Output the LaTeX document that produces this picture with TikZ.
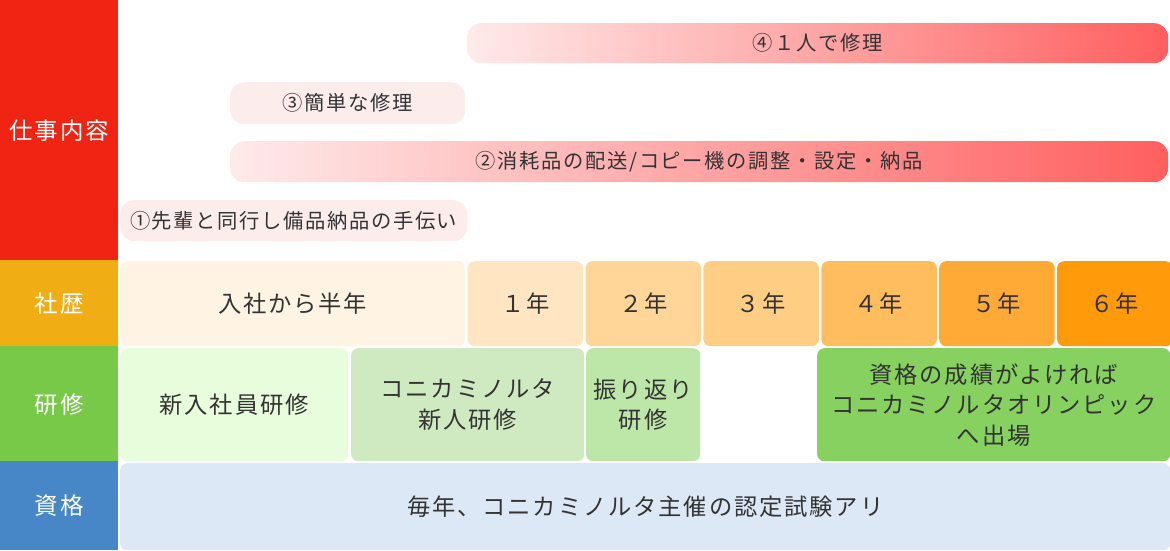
\documentclass[tikz,border=0pt]{standalone}
\usepackage{fontspec}
\setmainfont{Noto Sans CJK JP}
\newfontfamily\kmrowfont[LetterSpace=8]{Noto Sans CJK JP}
\usetikzlibrary{positioning}
\definecolor{kmInk}{HTML}{333333}
\definecolor{kmRed}{HTML}{EF2412}
\definecolor{kmOrange}{HTML}{F0AD14}
\definecolor{kmGreen}{HTML}{77C947}
\definecolor{kmBlue}{HTML}{4787C7}
\definecolor{kmPinkLt}{HTML}{FDECEC}
\definecolor{kmPinkGr}{HTML}{FFEAEA}
\definecolor{kmPinkDk}{HTML}{FF5F5F}
\definecolor{kmHalf}{HTML}{FFF4E4}
\definecolor{kmYrA}{HTML}{FFE5C2}
\definecolor{kmYrB}{HTML}{FFD598}
\definecolor{kmYrC}{HTML}{FFCD84}
\definecolor{kmYrD}{HTML}{FFBD5E}
\definecolor{kmYrE}{HTML}{FFAA36}
\definecolor{kmYrF}{HTML}{FF9A0B}
\definecolor{kmTrA}{HTML}{E7FDDC}
\definecolor{kmTrB}{HTML}{CFEAC1}
\definecolor{kmTrC}{HTML}{BDE7A8}
\definecolor{kmTrD}{HTML}{86D160}
\definecolor{kmQual}{HTML}{DCE8F5}
\tikzset{
  side label/.style={fill=#1,anchor=north west,inner sep=0pt,minimum width=118pt,
    text=white,font={\kmrowfont\fontsize{23.5}{28}\selectfont}},
  row cell/.style={rounded corners=7pt,anchor=north west,inner sep=0pt,align=center,
    text=kmInk,font={\kmrowfont\fontsize{23.3}{30.5}\selectfont}},
  year cell/.style={row cell,minimum width=115.5pt,minimum height=85pt},
  task bar/.style={rounded corners=14pt,anchor=north west,inner sep=0pt,
    text=kmInk,font={\kmrowfont\fontsize{20.3}{24}\selectfont}},
  task fade/.style={task bar,left color=kmPinkGr,right color=kmPinkDk}
}
\begin{document}
\begin{tikzpicture}[x=1pt,y=-1pt,node distance=2pt]
\useasboundingbox (0,0) rectangle (1170,550);
% category column
\node[side label=kmRed,minimum height=261pt] (work) at (0,0) {仕事内容};
\node[side label=kmOrange,minimum height=87pt] (career) at (0,260) {社歴};
\node[side label=kmGreen,minimum height=116pt] (training) at (0,346) {研修};
\node[side label=kmBlue,minimum height=89pt] (license) at (0,461) {資格};
% tasks
\node[task fade,minimum width=701pt,minimum height=40pt] (task4) at (467,23) {④１人で修理};
\node[task bar,fill=kmPinkLt,minimum width=235pt,minimum height=42pt] (task3) at (230,82) {③簡単な修理};
\node[task fade,minimum width=938pt,minimum height=41pt] (task2) at (230,141) {②消耗品の配送/コピー機の調整・設定・納品};
\node[task bar,fill=kmPinkLt,minimum width=347pt,minimum height=41pt] (task1) at (120,200) {①先輩と同行し備品納品の手伝い};
% career
\node[row cell,fill=kmHalf,minimum width=345pt,minimum height=85pt] (half) at (120,261) {入社から半年};
\node[year cell,fill=kmYrA,right=of half] (yr1) {１年};
\node[year cell,fill=kmYrB,right=of yr1] (yr2) {２年};
\node[year cell,fill=kmYrC,right=of yr2] (yr3) {３年};
\node[year cell,fill=kmYrD,right=of yr3] (yr4) {４年};
\node[year cell,fill=kmYrE,right=of yr4] (yr5) {５年};
\node[year cell,fill=kmYrF,right=of yr5] (yr6) {６年};
% training
\node[row cell,fill=kmTrA,minimum width=228pt,minimum height=113pt] (newhire) at (120,348) {新入社員研修};
\node[row cell,fill=kmTrB,minimum width=233pt,minimum height=113pt] (konica) at (351,348) {コニカミノルタ\\新人研修};
\node[row cell,fill=kmTrC,minimum width=114pt,minimum height=113pt] (review) at (586,348) {振り返り\\研修};
\node[row cell,fill=kmTrD,minimum width=353pt,minimum height=113pt] (olympic) at (817,348) {資格の成績がよければ\\コニカミノルタオリンピック\\へ出場};
% license
\node[row cell,fill=kmQual,minimum width=1050pt,minimum height=87pt] (exam) at (120,463) {毎年、コニカミノルタ主催の認定試験アリ};
\end{tikzpicture}
\end{document}
